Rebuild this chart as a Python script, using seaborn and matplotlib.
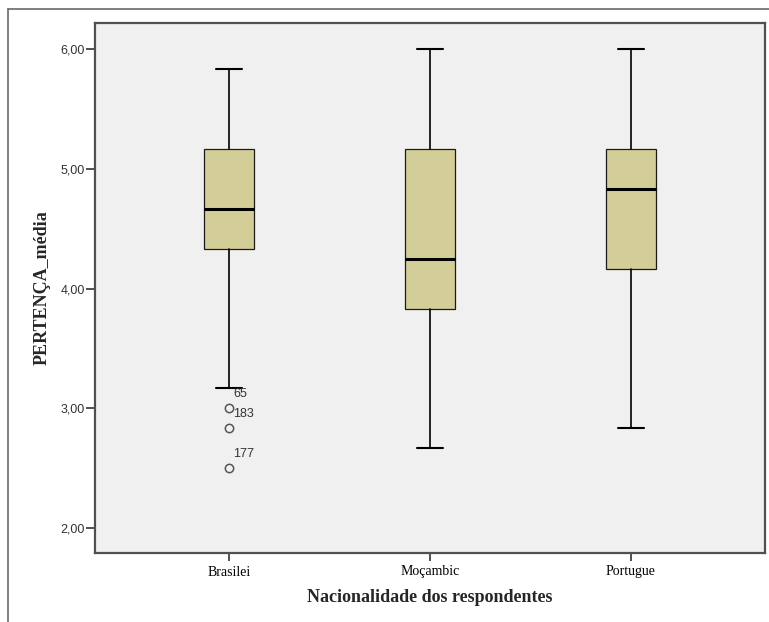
import matplotlib
matplotlib.use("Agg")
import matplotlib.pyplot as plt
from matplotlib.lines import Line2D
import seaborn as sns

# ---- data ----
categories = ["Brasilei", "Moçambic", "Portugue"]
q1_vals = [4.333, 3.833, 4.167]
median_vals = [4.667, 4.25, 4.833]
q3_vals = [5.167, 5.167, 5.167]
whisker_low = [3.167, 2.667, 2.833]
whisker_high = [5.833, 6.0, 6.0]
outlier_vals = [[3.0, 2.833, 2.5], [], []]
outlier_ids = [["65", "183", "177"], [], []]
ytick_vals = [2.0, 3.0, 4.0, 5.0, 6.0]
ytick_labels = ["2,00", "3,00", "4,00", "5,00", "6,00"]
x_title = "Nacionalidade dos respondentes"
y_title = "PERTENÇA_média"

sns.set_theme(style="white")
plt.rcParams["font.family"] = ["Liberation Sans", "DejaVu Sans"]

W, H = 769, 622
fig = plt.figure(figsize=(W / 100, H / 100), dpi=100)
fig.patch.set_facecolor("white")
ax = fig.add_axes([95 / W, (H - 553) / H, (765 - 95) / W, (553 - 23) / H])
ax.set_facecolor("#F0F0F0")

stats = []
for i, cat in enumerate(categories):
    stats.append(dict(label=cat, q1=q1_vals[i], med=median_vals[i], q3=q3_vals[i],
                      whislo=whisker_low[i], whishi=whisker_high[i],
                      fliers=outlier_vals[i]))

ax.bxp(stats, positions=range(len(categories)), widths=0.25, capwidths=0.125,
       patch_artist=True, showfliers=True,
       boxprops=dict(facecolor="#D3CE97", edgecolor="#1a1a1a", linewidth=0.9),
       medianprops=dict(color="black", linewidth=2.2, solid_capstyle="butt"),
       whiskerprops=dict(color="black", linewidth=1.2),
       capprops=dict(color="black", linewidth=1.5),
       flierprops=dict(marker="o", markersize=6, markerfacecolor="none",
                       markeredgecolor="#555555", markeredgewidth=1.1))

for i in range(len(categories)):
    for v, lab in zip(outlier_vals[i], outlier_ids[i]):
        ax.annotate(lab, xy=(i, v), xytext=(3, 10), textcoords="offset points",
                    ha="left", va="center", fontsize=9, color="#333333",
                    family=["Liberation Sans", "DejaVu Sans"])

ax.set_xlim(-0.667, 2.667)
ax.set_ylim(1.79, 6.22)
ax.set_yticks(ytick_vals)
ax.set_yticklabels(ytick_labels, fontsize=9, color="#333333",
                   family=["Liberation Sans", "DejaVu Sans"])
ax.set_xticks(range(len(categories)))
ax.set_xticklabels(categories, fontsize=10, color="black",
                   family=["Liberation Serif", "DejaVu Serif"])
ax.tick_params(axis="y", direction="out", length=6.5, width=1.2, color="#333333",
               pad=1, left=True)
ax.tick_params(axis="x", direction="out", length=6, width=1.2, color="#333333",
               pad=3, bottom=True)

for s in ax.spines.values():
    s.set_visible(True)
    s.set_color("#505050")
    s.set_linewidth(1.6)

ax.set_xlabel(x_title, fontsize=13, fontweight="bold",
              family=["Liberation Serif", "DejaVu Serif"], va="center")
ax.xaxis.set_label_coords(0.5, -45 / 530)
ax.set_ylabel(y_title, fontsize=13, fontweight="bold",
              family=["Liberation Serif", "DejaVu Serif"], va="center")
ax.yaxis.set_label_coords((42 - 95) / 670, 0.5)

# outer frame lines (top and left)
fig.add_artist(Line2D([8 / W, 1.0], [1 - 9 / H, 1 - 9 / H], transform=fig.transFigure,
                      color="#6a6a6a", linewidth=1.2))
fig.add_artist(Line2D([8 / W, 8 / W], [0.0, 1 - 9 / H], transform=fig.transFigure,
                      color="#6a6a6a", linewidth=1.2))

fig.savefig("out.png", dpi=100)
